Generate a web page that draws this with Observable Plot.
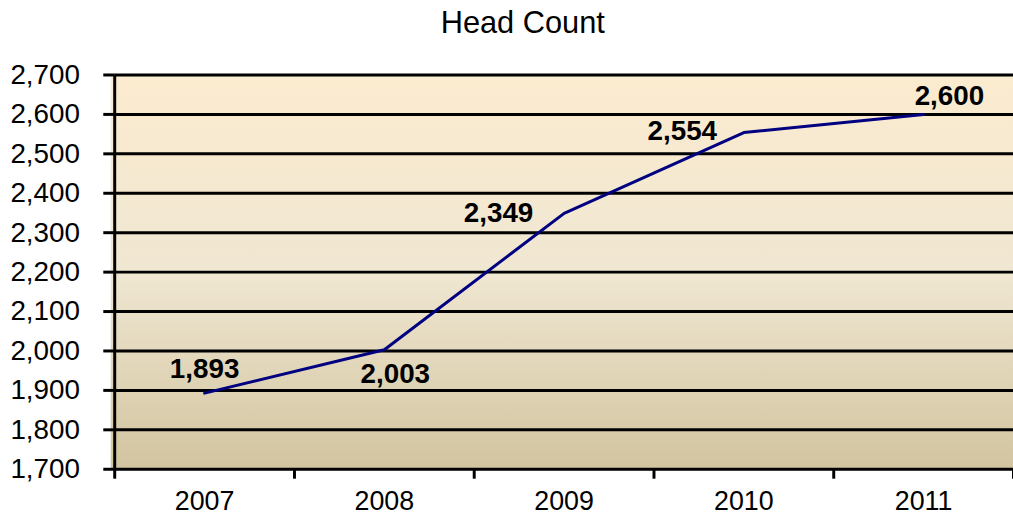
<!DOCTYPE html>
<html>
<head>
<meta charset="utf-8">
<script src="https://cdn.jsdelivr.net/npm/d3@7"></script>
<script src="https://cdn.jsdelivr.net/npm/@observablehq/plot@0.6"></script>
<style>
  html, body { margin: 0; padding: 0; background: #fff; overflow: hidden; }
  #chart svg { display: block; }
</style>
</head>
<body>
<div id="chart"></div>
<script>
const title = "Head Count";
const years = [2007, 2008, 2009, 2010, 2011];
const headCount = [1893, 2003, 2349, 2554, 2600];
const yTicks = [1700, 1800, 1900, 2000, 2100, 2200, 2300, 2400, 2500, 2600, 2700];
const boundaries = [2006.5, 2007.5, 2008.5, 2009.5, 2010.5, 2011.5];

const data = years.map((y, i) => ({year: y, value: headCount[i]}));
const fmt = d3.format(",");
const font = "Liberation Sans, Arial, sans-serif";

const label = (i, opts) => Plot.text([data[i]], {
  x: "year", y: "value", text: d => fmt(d.value),
  fontSize: 28, fontWeight: "bold", fill: "#000", ...opts
});

const chart = Plot.plot({
  width: 1020,
  height: 521,
  marginTop: 75,
  marginBottom: 49,
  marginLeft: 115,
  marginRight: 0,
  style: {fontFamily: font, fontSize: "28px", color: "#000", background: "transparent"},
  x: {type: "linear", domain: [2006.5, 2011.5]},
  y: {domain: [1700, 2700]},
  marks: [
    Plot.frame({fill: "url(#bgGrad)", stroke: "none", insetLeft: -4}),
    Plot.ruleY(yTicks, {stroke: "#000", strokeWidth: 3}),
    Plot.axisY({ticks: yTicks, tickFormat: fmt, tickSize: 11, tickPadding: 24, strokeWidth: 3, label: null, fontSize: 28}),
    Plot.axisX({ticks: boundaries, tickFormat: () => "", tickSize: 10, strokeWidth: 3, label: null}),
    Plot.axisX({ticks: years, tickFormat: d => String(d), tickSize: 0, tickPadding: 22, label: null, fontSize: 27}),
    Plot.ruleX([2006.5], {stroke: "#000", strokeWidth: 3}),
    Plot.line(data, {x: "year", y: "value", stroke: "#000080", strokeWidth: 3}),
    label(0, {dx: 0, dy: -24}),
    label(1, {dx: 11, dy: 24}),
    label(2, {dx: -66, dy: 0}),
    label(3, {dx: -62, dy: -1}),
    label(4, {dx: 26, dy: -18}),
    Plot.text([title], {frameAnchor: "top", x: () => 2008.77, dy: -64, text: d => d, fontSize: 31, fill: "#000"})
  ]
});

const svg = d3.select(chart);
const defs = svg.insert("defs", ":first-child");
const g = defs.append("linearGradient").attr("id", "bgGrad").attr("x1", 0).attr("y1", 0).attr("x2", 0).attr("y2", 1);
g.append("stop").attr("offset", "0%").attr("stop-color", "#FBEBCF");
g.append("stop").attr("offset", "50%").attr("stop-color", "#F0E7D2");
g.append("stop").attr("offset", "100%").attr("stop-color", "#D2C49F");

document.getElementById("chart").appendChild(chart);
</script>
</body>
</html>
